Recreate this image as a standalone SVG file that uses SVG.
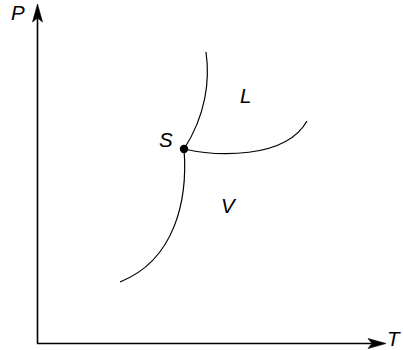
<svg xmlns="http://www.w3.org/2000/svg" width="403" height="350" viewBox="0 0 403 350">
<style>
.ax{stroke:#000;stroke-width:1.6;fill:none}
.ah{fill:#000;stroke:#000;stroke-width:0.6}
.cv{stroke:#000;stroke-width:1.2;fill:none}
.lb{font-family:"Liberation Sans",Arial,sans-serif;font-style:italic;font-size:20.5px;fill:#000}
</style>
<g id="axes">
<line class="ax" x1="37.5" y1="343.5" x2="37.5" y2="16"/>
<path class="ah" d="M37.5,4 L42.5,22 L37.5,18 L32.5,22 Z"/>
<line class="ax" x1="37" y1="343.5" x2="374" y2="343.5"/>
<path class="ah" d="M386,343.5 L368,348.5 L372,343.5 L368,338.5 Z"/>
<text class="lb" x="11" y="20">P</text>
<text class="lb" x="387" y="346">T</text>
</g>
<g id="connectors">
<path class="cv" d="M206,52 C210,80 206,115 184,149"/>
<path class="cv" d="M184,149 C215,156 285,160 307,121"/>
<path class="cv" d="M184,149 C188,200 175,260 120,282"/>
</g>
<g id="S">
<circle cx="184" cy="149" r="4.2" fill="#000"/>
<text class="lb" x="159" y="147">S</text>
</g>
<g id="L"><text class="lb" x="240" y="103">L</text></g>
<g id="V"><text class="lb" x="221" y="213">V</text></g>
</svg>
